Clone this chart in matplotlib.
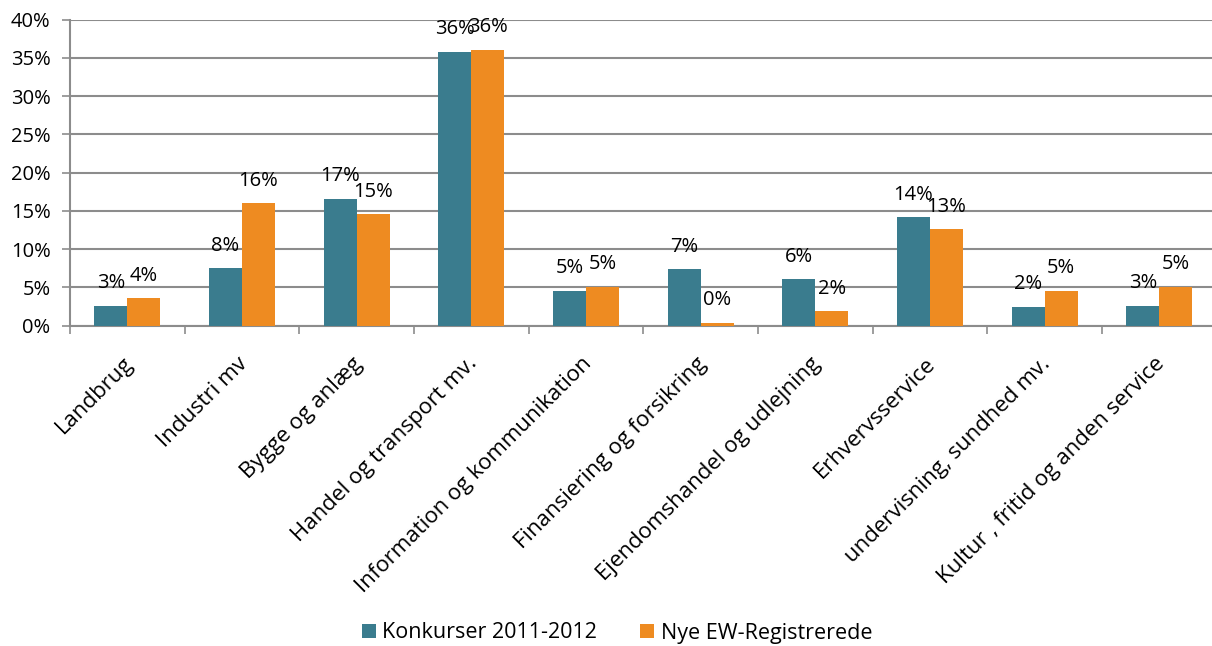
import numpy as np
import matplotlib
matplotlib.use("Agg")
import matplotlib.pyplot as plt
import matplotlib.transforms as mtransforms
from matplotlib.ticker import FuncFormatter, FixedLocator

plt.rcParams['font.family'] = ['Open Sans', 'DejaVu Sans']

categories = ["Landbrug", "Industri mv", "Bygge og anlæg", "Handel og transport mv.",
              "Information og kommunikation", "Finansiering og forsikring",
              "Ejendomshandel og udlejning", "Erhvervsservice",
              "undervisning, sundhed mv.", "Kultur , fritid og anden service"]
konkurser = [2.6, 7.5, 16.6, 35.8, 4.6, 7.4, 6.1, 14.2, 2.5, 2.6]
nye_ew = [3.6, 16.0, 14.6, 36.1, 5.1, 0.4, 1.9, 12.6, 4.6, 5.1]
series_names = ["Konkurser 2011-2012", "Nye EW-Registrerede"]

teal = "#3a7c8e"
orange = "#ee8b21"
grid_col = "#8c8c8c"

fig = plt.figure(figsize=(12.12, 6.46), dpi=100)
ax = fig.add_axes([70/1212, 1 - 325.7/646, 1 - 70/1212, (325.7 - 19.7)/646])

x = np.arange(len(categories))
w = 0.288
b1 = ax.bar(x - w/2, konkurser, w, color=teal, label=series_names[0], zorder=3)
b2 = ax.bar(x + w/2, nye_ew, w, color=orange, label=series_names[1], zorder=3)

for bars, vals in ((b1, konkurser), (b2, nye_ew)):
    for r, v in zip(bars, vals):
        ax.annotate(f"{v:.0f}%", (r.get_x() + r.get_width()/2, v),
                    xytext=(0, 9), textcoords="offset points",
                    ha="center", va="bottom", fontsize=14.5, zorder=4)

ax.set_ylim(0, 40)
ax.set_xlim(-0.5, 9.46)
ax.set_yticks(np.arange(0, 41, 5))
ax.yaxis.set_major_formatter(FuncFormatter(lambda v, p: f"{v:.0f}%"))
ax.grid(axis="y", color=grid_col, linewidth=1.5, zorder=0)
ax.tick_params(axis="y", length=6, width=1.2, color=grid_col, labelsize=14.5, pad=8)

ax.set_xticks(x)
labels = ax.set_xticklabels(categories, rotation=45, ha="right", va="top",
                            rotation_mode="anchor", fontsize=16)
ax.tick_params(axis="x", which="major", length=0, pad=14)
ax.xaxis.set_minor_locator(FixedLocator(np.arange(-0.5, 10, 1)))
ax.tick_params(axis="x", which="minor", length=6, width=1.2, color=grid_col)

# nudge the rotated labels a little left and down
off = mtransforms.ScaledTranslation(-5 / 100, -8 / 100, fig.dpi_scale_trans)
for lab in labels:
    lab.set_transform(lab.get_transform() + off)

for s in ("top", "right"):
    ax.spines[s].set_visible(False)
for s in ("left", "bottom"):
    ax.spines[s].set_color(grid_col)
    ax.spines[s].set_linewidth(1.5)

fig.legend(loc="center", bbox_to_anchor=(0.509, 1 - 633/646), ncol=2, frameon=False,
           fontsize=15.5, handlelength=0.65, handleheight=0.65, handletextpad=0.3,
           columnspacing=2.0)

fig.savefig("out.png", dpi=100)
